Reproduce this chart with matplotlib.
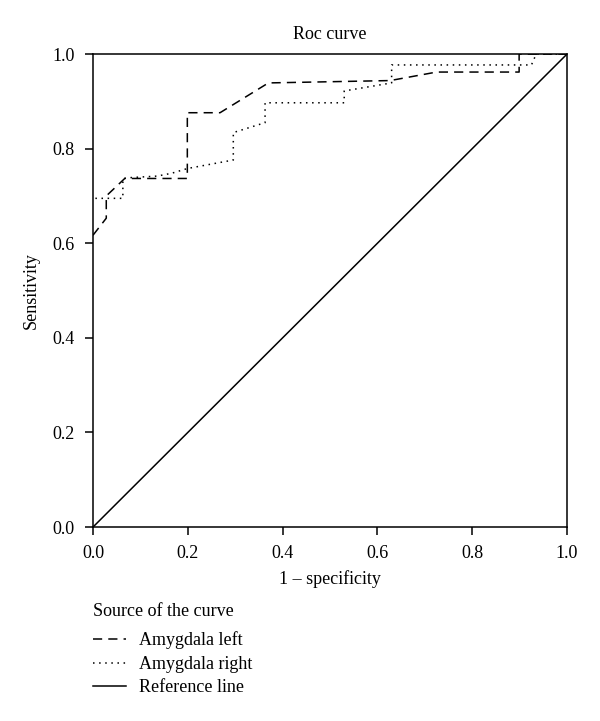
import matplotlib
matplotlib.use("Agg")
from matplotlib import pyplot as plt

plt.rcParams['font.family'] = ['Liberation Serif', 'DejaVu Serif']

#-------------------------------------------------------------------
# ROC points
left_fpr = [0.0, 0.028, 0.028, 0.067, 0.199, 0.199, 0.268, 0.370, 0.627, 0.725, 0.899, 0.899, 1.0]
left_tpr = [0.617, 0.653, 0.700, 0.737, 0.737, 0.876, 0.876, 0.939, 0.944, 0.962, 0.962, 1.0, 1.0]

right_fpr = [0.005, 0.063, 0.063, 0.082, 0.135, 0.166, 0.199, 0.296, 0.296, 0.363, 0.363,
             0.530, 0.530, 0.630, 0.630, 0.925, 0.935, 1.0]
right_tpr = [0.695, 0.695, 0.737, 0.739, 0.742, 0.748, 0.758, 0.776, 0.834, 0.855, 0.897,
             0.897, 0.922, 0.939, 0.977, 0.977, 1.0, 1.0]

ref_x = [0.0, 1.0]
ref_y = [0.0, 1.0]

ticks = [0.0, 0.2, 0.4, 0.6, 0.8, 1.0]
tick_labels = ['0.0', '0.2', '0.4', '0.6', '0.8', '1.0']

fs = 13

#-------------------------------------------------------------------
# Plot
fig = plt.figure(figsize=(6, 7.21), dpi=100)
ax = fig.add_axes([0.155, 0.269, 0.79, 0.656])

l1, = ax.plot(left_fpr, left_tpr, color='black', lw=1.1, linestyle=(0, (6, 4)))
l2, = ax.plot(right_fpr, right_tpr, color='black', lw=1.1, linestyle=(0, (1, 3)))
l3, = ax.plot(ref_x, ref_y, color='black', lw=1.1)

ax.set_xlim(0, 1)
ax.set_ylim(0, 1)
ax.set_xticks(ticks)
ax.set_xticklabels(tick_labels)
ax.set_yticks(ticks)
ax.set_yticklabels(tick_labels)
ax.tick_params(axis='both', labelsize=fs, length=6, width=1.1, direction='out', pad=7)
for s in ax.spines.values():
    s.set_linewidth(1.1)

ax.set_title('Roc curve', fontsize=fs, pad=11)
ax.set_xlabel('1 \u2013 specificity', fontsize=fs, labelpad=6)
ax.set_ylabel('Sensitivity', fontsize=fs, labelpad=9)

fig.text(0.155, 1 - 611 / 721, 'Source of the curve', fontsize=fs, ha='left', va='center')
leg = fig.legend([l1, l2, l3], ['Amygdala left', 'Amygdala right', 'Reference line'],
                 loc='upper left', bbox_to_anchor=(0.128, 0.1465), frameon=False,
                 fontsize=fs, handlelength=1.8, handletextpad=0.75, labelspacing=0.36)

plt.savefig('out.png', dpi=100)
